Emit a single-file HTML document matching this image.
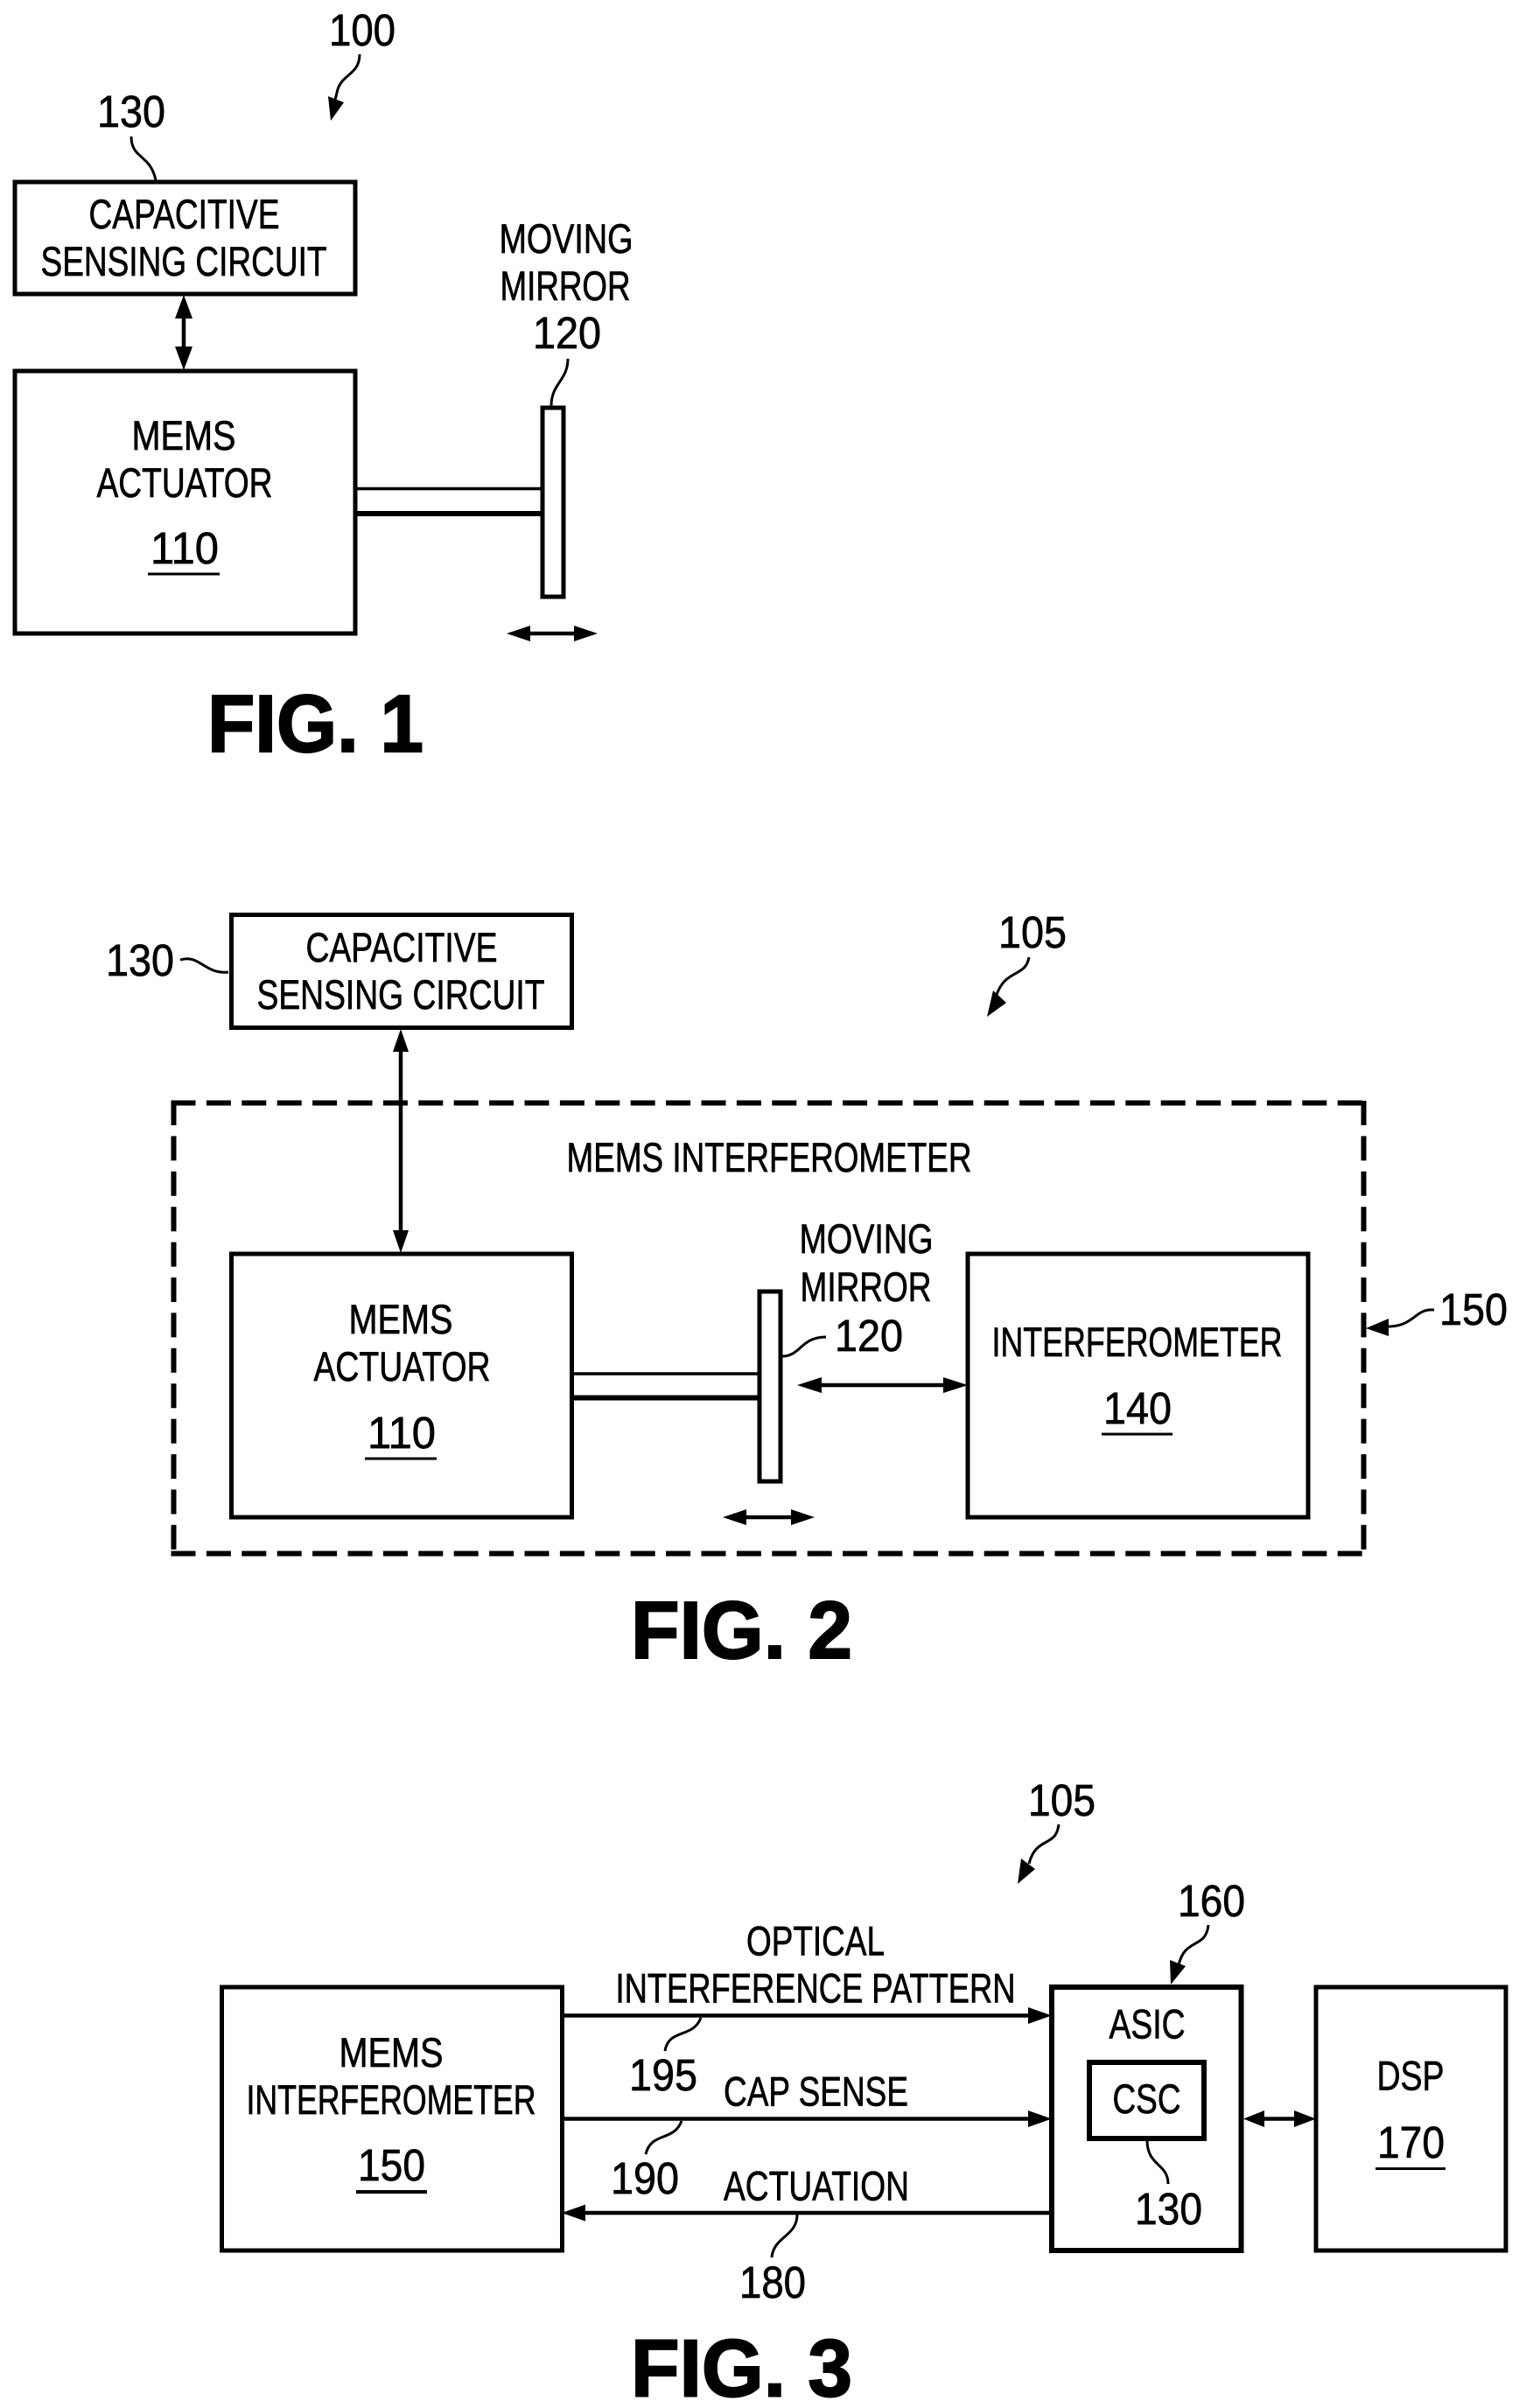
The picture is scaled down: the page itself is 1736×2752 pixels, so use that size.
<!DOCTYPE html>
<html><head><meta charset="utf-8"><style>
html,body{margin:0;padding:0;background:#fff}
svg{display:block}
text{font-family:"Liberation Sans",Arial,sans-serif;fill:#000;stroke:#000;stroke-width:.7}
.l{font-size:47px}
.n{font-size:51px}
.f{font-size:93px;font-weight:bold;stroke-width:2}
.b{fill:none;stroke:#000;stroke-width:5}
.t{fill:none;stroke:#000;stroke-width:3}
.a{stroke:#000;stroke-width:4.5}
</style></head><body>
<svg xmlns="http://www.w3.org/2000/svg" width="1736" height="2752" viewBox="0 0 1736 2752">
<rect width="1736" height="2752" fill="#fff"/>

<!-- FIG 1 -->
<rect class="b" x="17" y="208" width="389" height="128"/>
<rect class="b" x="17" y="424" width="389" height="300"/>
<rect class="b" x="620" y="466" width="24" height="216"/>
<line x1="406" y1="558.5" x2="620" y2="558.5" stroke="#000" stroke-width="3.5"/>
<line x1="406" y1="587" x2="620" y2="587" stroke="#000" stroke-width="6"/>
<line class="a" x1="210" y1="345" x2="210" y2="415"/>
<polygon points="210,337 200,364 220,364"/><polygon points="210,423 200,396 220,396"/>
<line class="a" x1="595" y1="724" x2="667" y2="724"/>
<polygon points="579,724 606,715 606,733"/><polygon points="683,724 656,715 656,733"/>
<text class="n" x="376" y="52" textLength="76" lengthAdjust="spacingAndGlyphs">100</text>
<path class="t" d="M411,62 C411,85 392,84 386,102 L382,118"/>
<polygon points="378,138 375,110 393,117"/>
<text class="n" x="111" y="145" textLength="78" lengthAdjust="spacingAndGlyphs">130</text>
<path class="t" d="M150,156 C150,182 172,176 178,206"/>
<text class="l" x="101.5" y="261" textLength="218" lengthAdjust="spacingAndGlyphs">CAPACITIVE</text>
<text class="l" x="46.5" y="315" textLength="327" lengthAdjust="spacingAndGlyphs">SENSING CIRCUIT</text>
<text class="l" x="570.5" y="289" textLength="153" lengthAdjust="spacingAndGlyphs">MOVING</text>
<text class="l" x="571.5" y="343" textLength="149" lengthAdjust="spacingAndGlyphs">MIRROR</text>
<text class="n" x="609" y="398" textLength="78" lengthAdjust="spacingAndGlyphs">120</text>
<path class="t" d="M649,410 C649,435 630,438 630,464"/>
<text class="l" x="150.5" y="514" textLength="119" lengthAdjust="spacingAndGlyphs">MEMS</text>
<text class="l" x="110.5" y="568" textLength="201" lengthAdjust="spacingAndGlyphs">ACTUATOR</text>
<text class="n" x="172" y="644" textLength="78" lengthAdjust="spacingAndGlyphs">110</text>
<line x1="169" y1="656" x2="251" y2="656" stroke="#000" stroke-width="3"/>
<text class="f" x="237" y="859" textLength="247" lengthAdjust="spacingAndGlyphs">FIG. 1</text>

<!-- FIG 2 -->
<rect class="b" x="264.5" y="1045.5" width="389" height="129"/>
<rect class="b" x="264.5" y="1433" width="389" height="301"/>
<rect class="b" x="1106" y="1433" width="389" height="301"/>
<g stroke="#000" stroke-width="6" stroke-dasharray="28 12.4" fill="none">
<line x1="195.5" y1="1260.5" x2="1561" y2="1260.5"/>
<line x1="195.5" y1="1775.5" x2="1561" y2="1775.5"/>
<line x1="198.5" y1="1258" x2="198.5" y2="1778"/>
<line x1="1558.5" y1="1258" x2="1558.5" y2="1778"/>
</g>
<rect class="b" x="868" y="1476" width="24" height="217"/>
<line x1="654" y1="1570" x2="868" y2="1570" stroke="#000" stroke-width="3.5"/>
<line x1="654" y1="1597.5" x2="868" y2="1597.5" stroke="#000" stroke-width="6"/>
<line class="a" x1="458" y1="1185" x2="458" y2="1422"/>
<polygon points="458,1176 449,1202 467,1202"/><polygon points="458,1432 449,1406 467,1406"/>
<line class="a" x1="925" y1="1583" x2="1095" y2="1583"/>
<polygon points="911,1583 939,1574 939,1592"/><polygon points="1106,1583 1078,1574 1078,1592"/>
<line class="a" x1="842" y1="1734" x2="915" y2="1734"/>
<polygon points="826,1734 853,1725 853,1743"/><polygon points="931,1734 904,1725 904,1743"/>
<text class="n" x="121" y="1115" textLength="78" lengthAdjust="spacingAndGlyphs">130</text>
<path class="t" d="M206,1097 C228,1090 234,1114 261,1111"/>
<text class="l" x="349.5" y="1099" textLength="219" lengthAdjust="spacingAndGlyphs">CAPACITIVE</text>
<text class="l" x="293.5" y="1153" textLength="329" lengthAdjust="spacingAndGlyphs">SENSING CIRCUIT</text>
<text class="l" x="647.5" y="1339" textLength="463" lengthAdjust="spacingAndGlyphs">MEMS INTERFEROMETER</text>
<text class="l" x="398.5" y="1524" textLength="119" lengthAdjust="spacingAndGlyphs">MEMS</text>
<text class="l" x="358.5" y="1578" textLength="202" lengthAdjust="spacingAndGlyphs">ACTUATOR</text>
<text class="n" x="420" y="1655" textLength="78" lengthAdjust="spacingAndGlyphs">110</text>
<line x1="417" y1="1667" x2="499" y2="1667" stroke="#000" stroke-width="3"/>
<text class="l" x="913.5" y="1432" textLength="153" lengthAdjust="spacingAndGlyphs">MOVING</text>
<text class="l" x="914.5" y="1487" textLength="150" lengthAdjust="spacingAndGlyphs">MIRROR</text>
<text class="n" x="954" y="1544" textLength="78" lengthAdjust="spacingAndGlyphs">120</text>
<path class="t" d="M894,1550 C915,1550 915,1528 944,1528"/>
<text class="l" x="1133.5" y="1550" textLength="332" lengthAdjust="spacingAndGlyphs">INTERFEROMETER</text>
<text class="n" x="1261" y="1627" textLength="78" lengthAdjust="spacingAndGlyphs">140</text>
<line x1="1259" y1="1639" x2="1340" y2="1639" stroke="#000" stroke-width="3"/>
<text class="n" x="1141" y="1083" textLength="78" lengthAdjust="spacingAndGlyphs">105</text>
<path class="t" d="M1176,1094 C1172,1118 1148,1106 1138,1140"/>
<polygon points="1128,1162 1135,1132 1150,1146"/>
<text class="n" x="1645" y="1514" textLength="78" lengthAdjust="spacingAndGlyphs">150</text>
<path class="t" d="M1639,1497 C1615,1495 1618,1518 1580,1516"/>
<polygon points="1561,1518 1587,1507 1587,1527"/>
<text class="f" x="721" y="1895" textLength="253" lengthAdjust="spacingAndGlyphs">FIG. 2</text>

<!-- FIG 3 -->
<rect class="b" x="253.5" y="2271" width="389" height="301"/>
<rect x="1202" y="2271" width="216.5" height="301" fill="none" stroke="#000" stroke-width="6"/>
<rect x="1245" y="2357" width="131" height="87" fill="none" stroke="#000" stroke-width="6"/>
<rect class="b" x="1504" y="2271" width="217" height="301"/>
<line class="a" x1="642" y1="2303.5" x2="1180" y2="2303.5"/>
<polygon points="1202,2303.5 1175,2294 1175,2313"/>
<line class="a" x1="642" y1="2421.5" x2="1180" y2="2421.5"/>
<polygon points="1202,2421.5 1175,2412 1175,2431"/>
<line class="a" x1="664" y1="2529" x2="1202" y2="2529"/>
<polygon points="642,2529 669,2519.5 669,2538.5"/>
<line class="a" x1="1435" y1="2421.5" x2="1490" y2="2421.5"/>
<polygon points="1421,2421.5 1445,2412 1445,2431"/><polygon points="1504,2421.5 1479,2412 1479,2431"/>
<text class="l" x="387.5" y="2362" textLength="119" lengthAdjust="spacingAndGlyphs">MEMS</text>
<text class="l" x="281.5" y="2416" textLength="331" lengthAdjust="spacingAndGlyphs">INTERFEROMETER</text>
<text class="n" x="409" y="2492" textLength="77" lengthAdjust="spacingAndGlyphs">150</text>
<line x1="407" y1="2505" x2="488" y2="2505" stroke="#000" stroke-width="4"/>
<text class="l" x="853" y="2234.5" textLength="158" lengthAdjust="spacingAndGlyphs">OPTICAL</text>
<text class="l" x="703.5" y="2288.5" textLength="457" lengthAdjust="spacingAndGlyphs">INTERFERENCE PATTERN</text>
<text class="l" x="827" y="2406.5" textLength="211" lengthAdjust="spacingAndGlyphs">CAP SENSE</text>
<text class="l" x="827" y="2514.5" textLength="212" lengthAdjust="spacingAndGlyphs">ACTUATION</text>
<text class="n" x="719" y="2389" textLength="78" lengthAdjust="spacingAndGlyphs">195</text>
<path class="t" d="M801,2306 C792,2330 764,2318 760,2344"/>
<text class="n" x="698" y="2507" textLength="78" lengthAdjust="spacingAndGlyphs">190</text>
<path class="t" d="M779,2424 C770,2448 744,2436 738,2462"/>
<text class="n" x="845" y="2626" textLength="76" lengthAdjust="spacingAndGlyphs">180</text>
<path class="t" d="M911,2531 C911,2556 884,2556 882,2580"/>
<text class="f" x="721" y="2738.5" textLength="253" lengthAdjust="spacingAndGlyphs">FIG. 3</text>
<text class="n" x="1175" y="2075" textLength="77" lengthAdjust="spacingAndGlyphs">105</text>
<path class="t" d="M1210,2085 C1207,2112 1184,2098 1176,2130"/>
<polygon points="1163,2153 1167,2124 1183,2136"/>
<text class="n" x="1346" y="2190" textLength="77" lengthAdjust="spacingAndGlyphs">160</text>
<path class="t" d="M1381,2200 C1378,2228 1354,2214 1347,2246"/>
<polygon points="1338,2268 1337,2240 1355,2247"/>
<text class="l" x="1267.5" y="2329.5" textLength="87" lengthAdjust="spacingAndGlyphs">ASIC</text>
<text class="l" x="1271.5" y="2415" textLength="78" lengthAdjust="spacingAndGlyphs">CSC</text>
<text class="l" x="1573.5" y="2388.5" textLength="77" lengthAdjust="spacingAndGlyphs">DSP</text>
<text class="n" x="1574" y="2466" textLength="77" lengthAdjust="spacingAndGlyphs">170</text>
<line x1="1572" y1="2478.5" x2="1652" y2="2478.5" stroke="#000" stroke-width="3"/>
<text class="n" x="1297" y="2542" textLength="77" lengthAdjust="spacingAndGlyphs">130</text>
<path class="t" d="M1311,2446 C1311,2476 1335,2472 1335,2496"/>
</svg>
</body></html>
